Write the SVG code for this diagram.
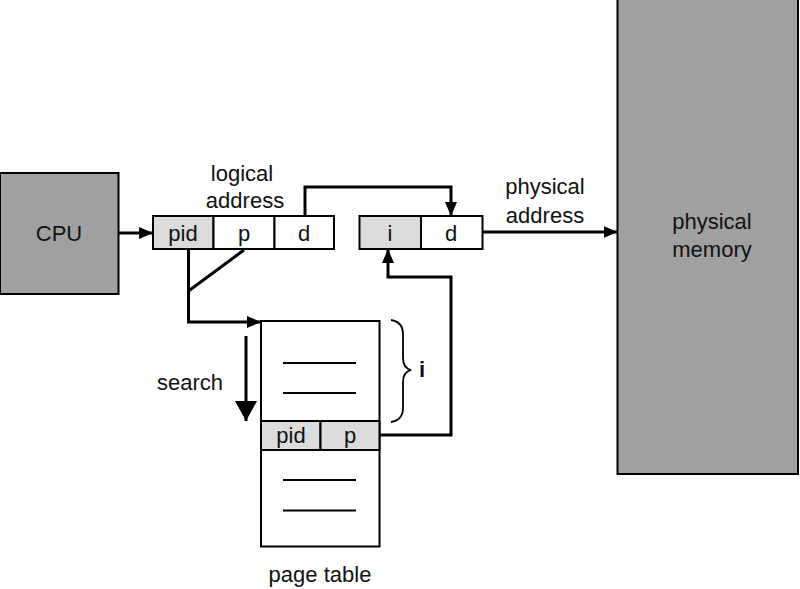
<svg xmlns="http://www.w3.org/2000/svg" width="800" height="589" viewBox="0 0 800 589">
<defs>
<marker id="ah" markerWidth="14" markerHeight="12" refX="14" refY="6" orient="auto" markerUnits="userSpaceOnUse">
<path d="M0,0 L14,6 L0,12 Z" fill="#000"/>
</marker>
<marker id="ahBig" markerWidth="20" markerHeight="22" refX="20" refY="11" orient="auto" markerUnits="userSpaceOnUse">
<path d="M0,0 L20,11 L0,22 Z" fill="#000"/>
</marker>
<style>
text{font-family:"Liberation Sans",Arial,Helvetica,sans-serif;font-size:22px;fill:#111;}
.c{text-anchor:middle;}
.box{stroke:#000;stroke-width:2;}
.dark{fill:#a0a0a0;}
.light{fill:#dcdcdc;}
.white{fill:#fff;}
.conn{fill:none;stroke:#000;stroke-width:3;}
.thin{stroke:#000;stroke-width:1.8;fill:none;}
</style>
</defs>
<rect width="800" height="589" fill="#fff"/>

<g id="cpu">
<rect class="box dark" x="0" y="173" width="118.5" height="121"/>
<text class="c" x="59" y="241">CPU</text>
</g>

<g id="physical-memory">
<rect class="box dark" x="617.5" y="-2" width="180.5" height="476"/>
<text class="c" x="712" y="229">physical</text>
<text class="c" x="712" y="257">memory</text>
</g>

<g id="logical-address">
<rect class="box light" x="153" y="216" width="60.5" height="33"/>
<rect class="box white" x="213.5" y="216" width="61" height="33"/>
<rect class="box white" x="274.5" y="216" width="59.5" height="33"/>
<text class="c" x="183" y="241">pid</text>
<text class="c" x="244" y="241">p</text>
<text class="c" x="304" y="241">d</text>
<text class="c" x="242" y="181">logical</text>
<text class="c" x="245" y="208">address</text>
</g>

<g id="physical-address">
<rect class="box light" x="359.5" y="216" width="61.5" height="33"/>
<rect class="box white" x="421" y="216" width="61.5" height="33"/>
<text class="c" x="390" y="241">i</text>
<text class="c" x="451" y="241">d</text>
<text class="c" x="545" y="194">physical</text>
<text class="c" x="545" y="223">address</text>
</g>

<g id="page-table">
<rect class="box white" x="261" y="321" width="118.5" height="225.5"/>
<rect class="box light" x="261" y="421" width="59.5" height="29"/>
<rect class="box light" x="320.5" y="421" width="59" height="29"/>
<text class="c" x="291" y="443">pid</text>
<text class="c" x="350" y="443">p</text>
<line class="thin" x1="283" y1="363" x2="356" y2="363"/>
<line class="thin" x1="283" y1="393" x2="356" y2="393"/>
<line class="thin" x1="283" y1="480" x2="356" y2="480"/>
<line class="thin" x1="283" y1="510.5" x2="356" y2="510.5"/>
<text class="c" x="320" y="582">page table</text>
</g>

<g id="index-brace">
<path class="thin" d="M391,320 Q403,322 403,334 L403,358 Q403,368 411,370 Q403,372 403,382 L403,408 Q403,420 391,422"/>
<text x="419" y="377" style="font-weight:bold">i</text>
</g>

<g id="search">
<text x="157" y="390">search</text>
</g>

<g id="connectors">
<line class="conn" x1="119" y1="233" x2="153" y2="233" marker-end="url(#ah)"/>
<polyline class="conn" points="305,216 305,187 451,187 451,216" marker-end="url(#ah)"/>
<line class="conn" x1="482.5" y1="232" x2="617.5" y2="232" marker-end="url(#ah)"/>
<polyline class="conn" points="188.5,249 188.5,322 261,322" marker-end="url(#ah)"/>
<line class="conn" x1="244" y1="250" x2="188.5" y2="291"/>
<polyline class="conn" points="380,435 451,435 451,277 388,277 388,249" marker-end="url(#ah)"/>
<line class="conn" x1="246" y1="336" x2="246" y2="421" marker-end="url(#ahBig)"/>
</g>
</svg>
